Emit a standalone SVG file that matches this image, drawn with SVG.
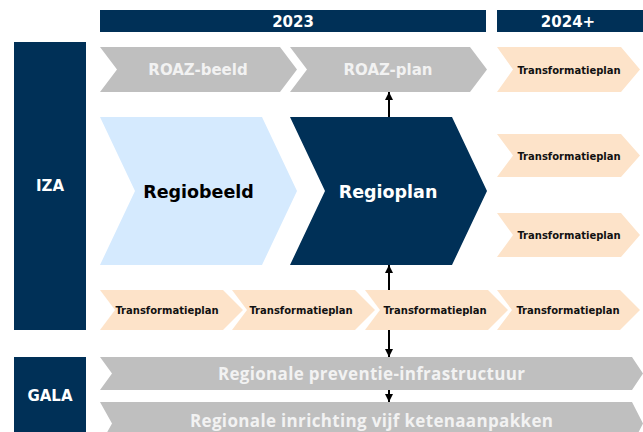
<svg xmlns="http://www.w3.org/2000/svg" width="643" height="432" viewBox="0 0 643 432">
<style>
.navy{fill:#003057}
.gray{fill:#bfbfbf}
.peach{fill:#fde3c9}
.blue{fill:#d5eafe}
text{font-family:"DejaVu Sans",Verdana,sans-serif;font-weight:bold;text-anchor:middle}
.hdr{fill:#ffffff;font-size:15px}
.roaz{fill:#f2f2f2;font-size:15px}
.tp{fill:#111111;font-size:10px}
.big{font-size:17.5px}
.gala{fill:#f2f2f2;font-family:"Open Sans","Noto Sans",sans-serif;font-size:17px}
.conn line{stroke:#000;stroke-width:2}
</style>
<defs>
<marker id="ah" viewBox="0 0 10 10" refX="10" refY="5" markerWidth="8" markerHeight="8" markerUnits="userSpaceOnUse" orient="auto">
<path d="M0,0 L10,5 L0,10 Z" fill="#000"/>
</marker>
</defs>

<g id="hdr-2023"><rect class="navy" x="100" y="10" width="386" height="22"/><text class="hdr" x="293" y="26.5">2023</text></g>
<g id="hdr-2024"><rect class="navy" x="497" y="10" width="146" height="22"/><text class="hdr" x="568" y="26.5">2024+</text></g>

<g id="iza"><rect class="navy" x="14" y="42" width="72" height="288"/><text class="hdr" x="50" y="191">IZA</text></g>
<g id="gala"><rect class="navy" x="14" y="357" width="72" height="75"/><text class="hdr" x="50" y="401">GALA</text></g>

<g id="roaz-beeld"><path class="gray" d="M100,47 H280 L297,69.5 L280,92 H100 L117,69.5 Z"/><text class="roaz" x="198" y="75">ROAZ-beeld</text></g>
<g id="roaz-plan"><path class="gray" d="M290,47 H470 L487,69.5 L470,92 H290 L307,69.5 Z"/><text class="roaz" x="388" y="75">ROAZ-plan</text></g>

<g id="regiobeeld"><path class="blue" d="M100,117 H262 L297,191 L262,265 H100 L135,191 Z"/><text class="big" fill="#000" x="198.5" y="197.5">Regiobeeld</text></g>
<g id="regioplan"><path class="navy" d="M290,117 H452 L487,191 L452,265 H290 L325,191 Z"/><text class="big" fill="#fff" x="388" y="197.5">Regioplan</text></g>

<g id="tp-r1"><path class="peach" d="M497,47 H621 L640,69.5 L621,92 H497 L513,69.5 Z"/><text class="tp" x="569" y="73.5">Transformatieplan</text></g>
<g id="tp-r2"><path class="peach" d="M497,134 H621 L640,155.5 L621,177 H497 L513,155.5 Z"/><text class="tp" x="569" y="159.5">Transformatieplan</text></g>
<g id="tp-r3"><path class="peach" d="M497,213 H621 L640,235 L621,257 H497 L513,235 Z"/><text class="tp" x="569" y="239">Transformatieplan</text></g>

<g id="tp-b1"><path class="peach" d="M100,290 H223 L243,310 L223,330 H100 L115,310 Z"/><text class="tp" x="167" y="314">Transformatieplan</text></g>
<g id="tp-b2"><path class="peach" d="M232,290 H355 L375,310 L355,330 H232 L247,310 Z"/><text class="tp" x="301" y="314">Transformatieplan</text></g>
<g id="tp-b3"><path class="peach" d="M365,290 H488 L508,310 L488,330 H365 L380,310 Z"/><text class="tp" x="435" y="314">Transformatieplan</text></g>
<g id="tp-b4"><path class="peach" d="M497,290 H620 L640,310 L620,330 H497 L512,310 Z"/><text class="tp" x="568" y="314">Transformatieplan</text></g>

<g id="gala-1"><path class="gray" d="M100,357 H632 L643,373.5 L632,390 H100 L112,373.5 Z"/><text class="gala" x="371.5" y="379.5" textLength="307" lengthAdjust="spacing">Regionale preventie-infrastructuur</text></g>
<g id="gala-2"><path class="gray" d="M100,402 H632 L643,423.5 L632,445 H100 L112,423.5 Z"/><text class="gala" x="371.5" y="426.5" textLength="363" lengthAdjust="spacing">Regionale inrichting vijf ketenaanpakken</text></g>

<g id="connectors" class="conn">
<line x1="389" y1="117" x2="389" y2="92" marker-end="url(#ah)"/>
<line x1="389" y1="290" x2="389" y2="265" marker-end="url(#ah)"/>
<line x1="389" y1="330" x2="389" y2="357" marker-end="url(#ah)"/>
<line x1="389" y1="390" x2="389" y2="402" marker-end="url(#ah)"/>
</g>
</svg>
